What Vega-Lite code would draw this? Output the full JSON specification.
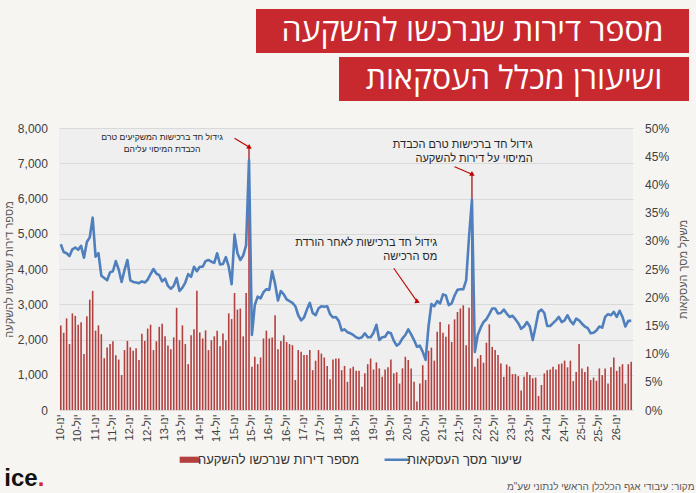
{
  "$schema": "https://vega.github.io/schema/vega-lite/v6.json",
  "background": "#f7f5f2",
  "padding": {"left": 3, "top": 9, "right": 8, "bottom": 0},
  "config": {"view": {"stroke": null}, "font": "Liberation Sans"},
  "datasets": {
    "monthly": [
      {"m":"2010-01","n":2400,"p":29.4},{"m":"2010-02","n":2190,"p":28.0},{"m":"2010-03","n":2600,"p":27.8},{"m":"2010-04","n":1870,"p":27.3},
      {"m":"2010-05","n":2740,"p":28.5},{"m":"2010-06","n":2670,"p":28.8},{"m":"2010-07","n":2420,"p":28.4},{"m":"2010-08","n":2490,"p":29.1},
      {"m":"2010-09","n":1590,"p":27.0},{"m":"2010-10","n":2660,"p":29.8},{"m":"2010-11","n":3130,"p":30.6},{"m":"2010-12","n":3380,"p":34.1},
      {"m":"2011-01","n":2250,"p":27.2},{"m":"2011-02","n":2400,"p":27.8},{"m":"2011-03","n":2150,"p":23.8},{"m":"2011-04","n":1470,"p":23.4},
      {"m":"2011-05","n":1770,"p":23.0},{"m":"2011-06","n":1870,"p":24.4},{"m":"2011-07","n":1950,"p":24.6},{"m":"2011-08","n":1550,"p":26.4},
      {"m":"2011-09","n":1430,"p":24.9},{"m":"2011-10","n":990,"p":22.7},{"m":"2011-11","n":1700,"p":24.8},{"m":"2011-12","n":1960,"p":26.6},
      {"m":"2012-01","n":1780,"p":23.0},{"m":"2012-02","n":1680,"p":22.7},{"m":"2012-03","n":1750,"p":22.6},{"m":"2012-04","n":1420,"p":22.5},
      {"m":"2012-05","n":2160,"p":22.8},{"m":"2012-06","n":1960,"p":22.6},{"m":"2012-07","n":2310,"p":23.1},{"m":"2012-08","n":2420,"p":24.1},
      {"m":"2012-09","n":1700,"p":25.0},{"m":"2012-10","n":1950,"p":24.2},{"m":"2012-11","n":2360,"p":23.9},{"m":"2012-12","n":2450,"p":22.8},
      {"m":"2013-01","n":2090,"p":23.3},{"m":"2013-02","n":1830,"p":22.0},{"m":"2013-03","n":1720,"p":21.5},{"m":"2013-04","n":2060,"p":22.0},
      {"m":"2013-05","n":2900,"p":23.4},{"m":"2013-06","n":1980,"p":21.1},{"m":"2013-07","n":2400,"p":21.7},{"m":"2013-08","n":1870,"p":22.6},
      {"m":"2013-09","n":1300,"p":24.1},{"m":"2013-10","n":2120,"p":23.6},{"m":"2013-11","n":2290,"p":25.4},{"m":"2013-12","n":3380,"p":24.6},
      {"m":"2014-01","n":2200,"p":25.4},{"m":"2014-02","n":2030,"p":25.4},{"m":"2014-03","n":2260,"p":26.4},{"m":"2014-04","n":1700,"p":26.6},
      {"m":"2014-05","n":1980,"p":26.3},{"m":"2014-06","n":2090,"p":26.1},{"m":"2014-07","n":2250,"p":27.8},{"m":"2014-08","n":1810,"p":25.8},
      {"m":"2014-09","n":2170,"p":25.9},{"m":"2014-10","n":1980,"p":27.1},{"m":"2014-11","n":2740,"p":25.4},{"m":"2014-12","n":2580,"p":22.3},
      {"m":"2015-01","n":3320,"p":31.1},{"m":"2015-02","n":2850,"p":27.8},{"m":"2015-03","n":2880,"p":26.6},{"m":"2015-04","n":2090,"p":27.4},
      {"m":"2015-05","n":3320,"p":29.2},{"m":"2015-06","n":7450,"p":44.3},{"m":"2015-07","n":1230,"p":13.3},{"m":"2015-08","n":1510,"p":18.6},
      {"m":"2015-09","n":1300,"p":20.1},{"m":"2015-10","n":1490,"p":19.8},{"m":"2015-11","n":2030,"p":20.9},{"m":"2015-12","n":2250,"p":21.4},
      {"m":"2016-01","n":2030,"p":21.3},{"m":"2016-02","n":2060,"p":24.6},{"m":"2016-03","n":2690,"p":22.4},{"m":"2016-04","n":1720,"p":19.4},
      {"m":"2016-05","n":1960,"p":21.1},{"m":"2016-06","n":2120,"p":20.5},{"m":"2016-07","n":1930,"p":19.6},{"m":"2016-08","n":1870,"p":19.3},
      {"m":"2016-09","n":1840,"p":19.0},{"m":"2016-10","n":850,"p":18.4},{"m":"2016-11","n":1700,"p":16.8},{"m":"2016-12","n":1650,"p":15.9},
      {"m":"2017-01","n":1560,"p":16.4},{"m":"2017-02","n":1560,"p":17.8},{"m":"2017-03","n":1700,"p":19.0},{"m":"2017-04","n":1130,"p":17.2},
      {"m":"2017-05","n":1400,"p":16.8},{"m":"2017-06","n":1700,"p":18.0},{"m":"2017-07","n":1600,"p":18.4},{"m":"2017-08","n":1490,"p":18.3},
      {"m":"2017-09","n":1250,"p":18.4},{"m":"2017-10","n":870,"p":17.0},{"m":"2017-11","n":1430,"p":16.4},{"m":"2017-12","n":1460,"p":16.5},
      {"m":"2018-01","n":1460,"p":15.8},{"m":"2018-02","n":1130,"p":14.1},{"m":"2018-03","n":1250,"p":14.3},{"m":"2018-04","n":800,"p":13.8},
      {"m":"2018-05","n":1180,"p":13.6},{"m":"2018-06","n":1230,"p":13.3},{"m":"2018-07","n":1110,"p":12.9},{"m":"2018-08","n":1110,"p":12.7},
      {"m":"2018-09","n":660,"p":12.9},{"m":"2018-10","n":1040,"p":13.6},{"m":"2018-11","n":1300,"p":12.9},{"m":"2018-12","n":1460,"p":12.9},
      {"m":"2019-01","n":1150,"p":13.7},{"m":"2019-02","n":1350,"p":15.1},{"m":"2019-03","n":1180,"p":12.4},{"m":"2019-04","n":940,"p":12.9},
      {"m":"2019-05","n":1150,"p":13.0},{"m":"2019-06","n":1210,"p":13.8},{"m":"2019-07","n":1430,"p":13.6},{"m":"2019-08","n":1040,"p":12.3},
      {"m":"2019-09","n":1070,"p":11.4},{"m":"2019-10","n":750,"p":11.8},{"m":"2019-11","n":1180,"p":12.7},{"m":"2019-12","n":1510,"p":13.3},
      {"m":"2020-01","n":1420,"p":14.3},{"m":"2020-02","n":1180,"p":13.4},{"m":"2020-03","n":800,"p":12.4},{"m":"2020-04","n":240,"p":11.2},
      {"m":"2020-05","n":750,"p":11.4},{"m":"2020-06","n":1270,"p":10.3},{"m":"2020-07","n":850,"p":8.9},{"m":"2020-08","n":1680,"p":14.8},
      {"m":"2020-09","n":1770,"p":18.8},{"m":"2020-10","n":1400,"p":18.4},{"m":"2020-11","n":2220,"p":19.3},{"m":"2020-12","n":2500,"p":18.9},
      {"m":"2021-01","n":2190,"p":20.5},{"m":"2021-02","n":2080,"p":20.3},{"m":"2021-03","n":2430,"p":18.6},{"m":"2021-04","n":1930,"p":18.9},
      {"m":"2021-05","n":2570,"p":20.3},{"m":"2021-06","n":2780,"p":21.3},{"m":"2021-07","n":2880,"p":21.4},{"m":"2021-08","n":2970,"p":21.4},
      {"m":"2021-09","n":1840,"p":23.0},{"m":"2021-10","n":2900,"p":30.7},{"m":"2021-11","n":6680,"p":37.3},{"m":"2021-12","n":1230,"p":10.3},
      {"m":"2022-01","n":1460,"p":13.3},{"m":"2022-02","n":1560,"p":14.6},{"m":"2022-03","n":1340,"p":15.6},{"m":"2022-04","n":1910,"p":16.1},
      {"m":"2022-05","n":2430,"p":17.0},{"m":"2022-06","n":1790,"p":18.0},{"m":"2022-07","n":1700,"p":18.0},{"m":"2022-08","n":1560,"p":17.1},
      {"m":"2022-09","n":1320,"p":17.2},{"m":"2022-10","n":940,"p":17.8},{"m":"2022-11","n":1290,"p":17.1},{"m":"2022-12","n":1230,"p":16.5},
      {"m":"2023-01","n":1020,"p":16.7},{"m":"2023-02","n":1020,"p":16.1},{"m":"2023-03","n":960,"p":15.4},{"m":"2023-04","n":550,"p":14.4},
      {"m":"2023-05","n":940,"p":14.8},{"m":"2023-06","n":1080,"p":15.6},{"m":"2023-07","n":990,"p":14.8},{"m":"2023-08","n":900,"p":12.4},
      {"m":"2023-09","n":920,"p":14.8},{"m":"2023-10","n":400,"p":17.4},{"m":"2023-11","n":710,"p":17.8},{"m":"2023-12","n":1040,"p":17.2},
      {"m":"2024-01","n":1130,"p":14.9},{"m":"2024-02","n":1150,"p":14.9},{"m":"2024-03","n":1230,"p":15.4},{"m":"2024-04","n":1150,"p":15.9},
      {"m":"2024-05","n":1300,"p":16.5},{"m":"2024-06","n":1320,"p":15.6},{"m":"2024-07","n":1400,"p":15.9},{"m":"2024-08","n":1210,"p":16.8},
      {"m":"2024-09","n":1400,"p":15.8},{"m":"2024-10","n":820,"p":15.2},{"m":"2024-11","n":1080,"p":16.2},{"m":"2024-12","n":1870,"p":15.9},
      {"m":"2025-01","n":1180,"p":15.3},{"m":"2025-02","n":1080,"p":14.8},{"m":"2025-03","n":1230,"p":14.5},{"m":"2025-04","n":850,"p":13.6},
      {"m":"2025-05","n":920,"p":13.7},{"m":"2025-06","n":830,"p":14.1},{"m":"2025-07","n":1180,"p":14.8},{"m":"2025-08","n":990,"p":14.6},
      {"m":"2025-09","n":1180,"p":16.5},{"m":"2025-10","n":750,"p":17.0},{"m":"2025-11","n":1210,"p":16.8},{"m":"2025-12","n":1490,"p":17.4},
      {"m":"2026-01","n":1110,"p":16.5},{"m":"2026-02","n":1230,"p":17.6},{"m":"2026-03","n":1300,"p":16.5},{"m":"2026-04","n":750,"p":14.8},
      {"m":"2026-05","n":1300,"p":15.8},{"m":"2026-06","n":1370,"p":15.8}
    ],
    "notes": [
      {"id":"n1","m":"2012-12","y":7850,"t":["גידול חד ברכישות המשקיעים טרם","הכבדת המיסוי עליהם"]},
      {"id":"n2","m":"2023-08","y":7700,"t":["גידול חד ברכישות טרם הכבדת","המיסוי על דירות להשקעה"]},
      {"id":"n3","m":"2020-11","y":4920,"t":["גידול חד ברכישות לאחר הורדת","מס הרכישה"]}
    ],
    "arrows": [
      {"id":"a1","m1":"2015-01","y1":7710,"m2":"2015-06","y2":7460},
      {"id":"a2","m1":"2021-05","y1":6900,"m2":"2021-11","y2":6690},
      {"id":"a3","m1":"2019-08","y1":4020,"m2":"2020-04","y2":3080}
    ]
  },
  "spacing": 21,
  "vconcat": [
    {
      "spacing": 4,
      "vconcat": [
        {
          "spacing": 0,
          "hconcat": [
            {"width": 196.7, "height": 44, "data": {"values": [{"t": ""}]}, "mark": "text", "encoding": {"text": {"field": "t"}}},
            {
              "width": 433, "height": 44,
              "view": {"fill": "#c8292f"},
              "data": {"values": [{"t": "מספר דירות שנרכשו להשקעה"}]},
              "mark": {"type": "text", "font": "Open Sans", "fontSize": 32, "color": "#ffffff", "align": "center", "baseline": "middle"},
              "encoding": {"text": {"field": "t"}}
            }
          ]
        },
        {
          "spacing": 0,
          "hconcat": [
            {"width": 279.7, "height": 44, "data": {"values": [{"t": ""}]}, "mark": "text", "encoding": {"text": {"field": "t"}}},
            {
              "width": 350, "height": 44,
              "view": {"fill": "#c8292f"},
              "data": {"values": [{"t": "ושיעורן מכלל העסקאות"}]},
              "mark": {"type": "text", "font": "Open Sans", "fontSize": 32, "color": "#ffffff", "align": "center", "baseline": "middle"},
              "encoding": {"text": {"field": "t"}}
            }
          ]
        }
      ]
    },
    {
      "spacing": 0,
      "resolve": {"scale": {"color": "independent"}, "legend": {"color": "independent"}},
      "vconcat": [
        {
          "width": 574,
          "height": 282,
          "view": {"fill": "#efefef"},
          "resolve": {"scale": {"y": "independent"}},
          "layer": [
            {
              "data": {"name": "monthly"},
              "mark": {"type": "bar"},
              "encoding": {
                "x": {
                  "field": "m", "type": "ordinal", "title": null,
                  "scale": {"paddingInner": 0.45, "paddingOuter": 0.35},
                  "axis": {
                    "labelAngle": -90, "labelOverlap": false, "ticks": false, "domain": false, "grid": false,
                    "labelPadding": 4, "labelFontSize": 11, "labelColor": "#404040",
                    "labelExpr": "slice(datum.value, 5) == '01' ? 'ינו-' + slice(datum.value, 2, 4) : slice(datum.value, 5) == '07' ? 'יול-' + slice(datum.value, 2, 4) : ''"
                  }
                },
                "y": {
                  "field": "n", "type": "quantitative",
                  "scale": {"domain": [0, 8000], "nice": false},
                  "axis": {
                    "title": "מספר דירות שנרכשו להשקעה",
                    "values": [0, 1000, 2000, 3000, 4000, 5000, 6000, 7000, 8000],
                    "format": ",d", "ticks": false, "tickSize": 0, "domain": false,
                    "grid": true, "gridColor": "#d9d9d9",
                    "labelPadding": 11.6, "labelFontSize": 12, "labelColor": "#404040",
                    "titleFontSize": 11, "titleFontWeight": "normal", "titleColor": "#595959", "titlePadding": 3
                  }
                },
                "color": {
                  "datum": "מספר דירות שנרכשו להשקעה",
                  "scale": {"domain": ["מספר דירות שנרכשו להשקעה", "שיעור מסך העסקאות"], "range": ["#b3403f", "#4f7fbd"]},
                  "legend": {
                    "orient": "none", "legendX": 124.4, "legendY": 325, "direction": "horizontal", "title": null,
                    "labelFontSize": 13, "labelColor": "#333333", "labelOffset": 1.5, "labelLimit": 400,
                    "symbolSize": 420, "columnPadding": 20,
                    "encode": {
                      "symbols": {
                        "update": {
                          "shape": {"signal": "datum.value === 'שיעור מסך העסקאות' ? 'M-1.4,0H1' : 'M-1,-0.3H1V0.3H-1Z'"},
                          "strokeWidth": {"signal": "datum.value === 'שיעור מסך העסקאות' ? 2.5 : 0"},
                          "stroke": {"scale": "color", "field": "value"},
                          "fill": {"scale": "color", "field": "value"}
                        }
                      }
                    }
                  }
                }
              }
            },
            {
              "data": {"name": "monthly"},
              "mark": {"type": "line", "strokeWidth": 2.6, "strokeJoin": "round"},
              "encoding": {
                "x": {"field": "m", "type": "ordinal", "title": null},
                "y": {
                  "field": "p", "type": "quantitative",
                  "scale": {"domain": [0, 50], "nice": false},
                  "axis": {
                    "orient": "right", "title": "משקל מסך העסקאות",
                    "values": [0, 5, 10, 15, 20, 25, 30, 35, 40, 45, 50],
                    "labelExpr": "datum.value + '%'",
                    "ticks": false, "tickSize": 0, "domain": false, "grid": false,
                    "labelPadding": 11.6, "labelFontSize": 12, "labelColor": "#404040",
                    "titleAngle": 270, "titleBaseline": "top",
                    "titleFontSize": 11, "titleFontWeight": "normal", "titleColor": "#595959", "titlePadding": 9
                  }
                },
                "color": {"datum": "שיעור מסך העסקאות"}
              }
            },
            {
              "data": {"name": "arrows"},
              "mark": {"type": "rule", "color": "#c00000", "strokeWidth": 1.1},
              "encoding": {
                "x": {"field": "m1", "type": "ordinal", "title": null, "bandPosition": 0.5},
                "x2": {"field": "m2", "bandPosition": 0.5},
                "y": {"field": "y1", "type": "quantitative", "scale": {"domain": [0, 8000], "nice": false}, "axis": null},
                "y2": {"field": "y2"}
              }
            },
            {
              "data": {"name": "arrows"},
              "mark": {"type": "point", "shape": "triangle", "filled": true, "size": 30, "color": "#c00000", "opacity": 1},
              "encoding": {
                "x": {"field": "m2", "type": "ordinal", "title": null},
                "y": {"field": "y2", "type": "quantitative", "scale": {"domain": [0, 8000], "nice": false}, "axis": null},
                "angle": {"field": "id", "type": "nominal", "scale": {"domain": ["a1", "a2", "a3"], "range": [124, 115, 145]}, "legend": null}
              }
            },
            {
              "data": {"name": "notes"},
              "transform": [{"filter": "datum.id == 'n1'"}],
              "mark": {"type": "text", "align": "center", "baseline": "top", "fontSize": 8.6, "lineHeight": 11.7, "color": "#262626"},
              "encoding": {
                "x": {"field": "m", "type": "ordinal", "title": null},
                "y": {"field": "y", "type": "quantitative", "scale": {"domain": [0, 8000], "nice": false}, "axis": null},
                "text": {"field": "t"}
              }
            },
            {
              "data": {"name": "notes"},
              "transform": [{"filter": "datum.id != 'n1'"}],
              "mark": {"type": "text", "align": "right", "baseline": "top", "fontSize": 11, "lineHeight": 14, "color": "#262626"},
              "encoding": {
                "x": {"field": "m", "type": "ordinal", "title": null},
                "y": {"field": "y", "type": "quantitative", "scale": {"domain": [0, 8000], "nice": false}, "axis": null},
                "text": {"field": "t"}
              }
            }
          ]
        },
        {
          "spacing": 0,
          "hconcat": [
            {
              "width": 2, "height": 24,
              "data": {"values": [{"a": "ice", "b": "."}]},
              "layer": [
                {
                  "mark": {"type": "text", "align": "right", "baseline": "alphabetic", "dx": -22.3, "dy": 5, "font": "Liberation Sans", "fontWeight": "bold", "fontSize": 24, "color": "#111111"},
                  "encoding": {"text": {"field": "a"}}
                },
                {
                  "mark": {"type": "text", "align": "left", "baseline": "alphabetic", "dx": -22.3, "dy": 5, "font": "Liberation Sans", "fontWeight": "bold", "fontSize": 24, "color": "#d7262e"},
                  "encoding": {"text": {"field": "b"}}
                }
              ]
            },
            {"width": 444.7, "height": 24, "data": {"values": [{"t": ""}]}, "mark": "text", "encoding": {"text": {"field": "t"}}},
            {
              "width": 183, "height": 24,
              "data": {"values": [{"t": "מקור: עיבודי אגף הכלכלן הראשי לנתוני שע\"מ"}]},
              "mark": {"type": "text", "fontSize": 10, "color": "#595959", "align": "right", "baseline": "middle", "dx": 93, "dy": 6},
              "encoding": {"text": {"field": "t"}}
            }
          ]
        }
      ]
    }
  ]
}
